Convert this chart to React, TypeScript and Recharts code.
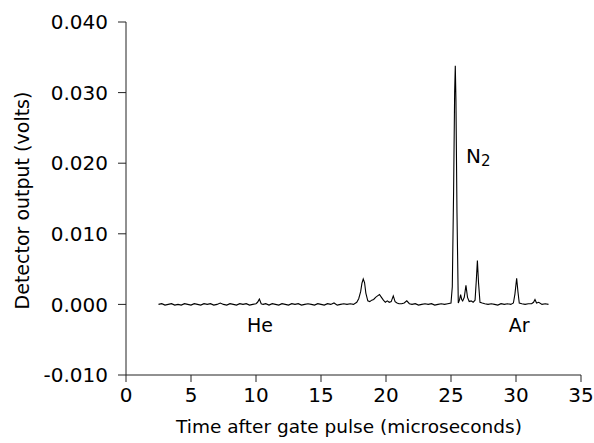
import React from "react";
import { LineChart, Line, XAxis, YAxis, ReferenceDot } from "recharts";

const times = [
  2.5, 2.75, 3, 3.25, 3.5, 3.75, 4, 4.25, 4.5, 4.75,
  5, 5.25, 5.5, 5.75, 6, 6.25, 6.5, 6.75, 7, 7.25,
  7.5, 7.75, 8, 8.25, 8.5, 8.75, 9, 9.25, 9.5, 9.75,
  10, 10.12, 10.26, 10.4, 10.55, 10.75, 11, 11.25, 11.5, 11.75,
  12, 12.25, 12.5, 12.75, 13, 13.25, 13.5, 13.75, 14, 14.25,
  14.5, 14.75, 15, 15.25, 15.5, 15.75, 16, 16.25, 16.5, 16.75,
  17, 17.25, 17.5, 17.75, 17.9, 18.05, 18.15, 18.25, 18.35, 18.45,
  18.6, 18.75, 18.9, 19.05, 19.2, 19.35, 19.5, 19.65, 19.8, 19.95,
  20.1, 20.25, 20.4, 20.56, 20.7, 20.85, 21, 21.2, 21.4, 21.6,
  21.8, 22, 22.25, 22.5, 22.75, 23, 23.25, 23.5, 23.75, 24,
  24.25, 24.5, 24.75, 25, 25.1, 25.2, 25.28, 25.33, 25.38, 25.46,
  25.56, 25.65, 25.74, 25.82, 25.9, 26.02, 26.15, 26.27, 26.4, 26.55,
  26.7, 26.85, 26.95, 27.03, 27.12, 27.23, 27.4, 27.6, 27.85, 28.1,
  28.35, 28.6, 28.85, 29.1, 29.35, 29.6, 29.8, 29.92, 30.05, 30.15,
  30.25, 30.45, 30.7, 30.95, 31.2, 31.35, 31.46, 31.58, 31.75, 32,
  32.25, 32.5,
];

const volts = [
  0, 0.0001, -0.0001, 0, 0.0001, -0.0001, 0, -0.0001, 0.0001, 0,
  -0.0001, 0.0001, 0, -0.0001, 0.0001, 0, 0.0001, -0.0001, 0, 0.0002,
  0, -0.0001, 0.0001, 0, -0.0001, 0.0001, 0, 0.0001, -0.0001, 0,
  0.0001, 0.0003, 0.00075, 0.0001, 0, 0.0001, -0.0001, 0.0001, 0, -0.0001,
  0.0001, 0, -0.0001, 0.0001, 0, 0.0001, -0.0001, 0, 0.0001, 0,
  -0.0001, 0.0001, 0, -0.0001, 0.0001, 0, 0.0002, -0.0001, 0, 0.0001,
  0, 0.0001, 0, 0.0003, 0.0008, 0.0018, 0.003, 0.0036, 0.0031, 0.0016,
  0.0005, 0.0004, 0.0006, 0.0007, 0.001, 0.0012, 0.0014, 0.001, 0.0006, 0.0003,
  0.0005, 0.0003, 0.0004, 0.0012, 0.0004, 0.0002, 0.0001, 0.0001, 0.0002, 0.0005,
  0.0001, 0, 0.0001, -0.0001, 0, 0.0001, 0, 0.0001, -0.0001, 0,
  0.0001, 0, 0.0001, 0.0002, 0.0025, 0.016, 0.03, 0.0338, 0.029, 0.013,
  0.0002, 0.0006, 0.0014, 0.0007, 0.0005, 0.001, 0.0027, 0.001, 0.0004, 0.0005,
  0.0003, 0.0006, 0.0035, 0.0062, 0.003, 0.0003, 0.0002, 0.0001, 0, 0.0001,
  0, -0.0001, 0.0001, 0, 0.0001, 0, 0.0002, 0.0015, 0.0037, 0.0018,
  0.0002, 0.0001, 0, 0.0001, 0.0001, 0.0003, 0.0007, 0.0002, 0.0003, 0,
  0.0001, 0,
];

const xTicks = [0, 5, 10, 15, 20, 25, 30, 35];
const yTicks = [-0.01, 0, 0.01, 0.02, 0.03, 0.04];

const annotations = [
  { label: "He", x: 10.3, y: -0.0029 },
  { label: "Ar", x: 30.25, y: -0.0029 },
];
const n2Label = { x: 26.15, y: 0.021 };

const data = times.map((t, i) => ({ t, v: volts[i] }));

const FONT = "'DejaVu Sans', sans-serif";
const AXIS = "#222";

export default function App() {
  return (
    <div style={{ position: "absolute", left: 0, top: 0, fontFamily: FONT }}>
      <LineChart
        width={594}
        height={443}
        data={data}
        margin={{ top: 22, right: 13, bottom: 0, left: 0 }}
      >
        <XAxis
          dataKey="t"
          type="number"
          domain={[0, 35]}
          ticks={xTicks}
          interval={0}
          height={68}
          tickSize={7}
          tickMargin={6}
          stroke={AXIS}
          tick={{ fill: "#000", fontSize: 20, fontFamily: FONT }}
          tickLine={{ stroke: AXIS }}
          axisLine={{ stroke: AXIS }}
          label={{
            content: (p: any) => {
              const vb = p.viewBox;
              return (
                <text
                  x={349}
                  y={vb.y + 58}
                  textAnchor="middle"
                  fontSize={18.5}
                  fontFamily={FONT}
                  fill="#000"
                >
                  Time after gate pulse (microseconds)
                </text>
              );
            },
          }}
        />
        <XAxis
          xAxisId="top"
          orientation="top"
          type="number"
          domain={[0, 35]}
          height={0}
          tick={false}
          tickLine={false}
          axisLine={{ stroke: AXIS }}
        />
        <YAxis
          type="number"
          domain={[-0.01, 0.04]}
          ticks={yTicks}
          interval={0}
          width={126}
          tickSize={8}
          tickMargin={10}
          stroke={AXIS}
          tickFormatter={(v: number) => v.toFixed(3)}
          tick={{ fill: "#000", fontSize: 20, fontFamily: FONT }}
          tickLine={{ stroke: AXIS }}
          axisLine={{ stroke: AXIS }}
          label={{
            content: (p: any) => {
              const vb = p.viewBox;
              const cy = vb.y + vb.height / 2 + 2;
              return (
                <text
                  x={22}
                  y={cy}
                  transform={`rotate(-90, 22, ${cy})`}
                  textAnchor="middle"
                  dominantBaseline="central"
                  fontSize={19}
                  fontFamily={FONT}
                  fill="#000"
                >
                  Detector output (volts)
                </text>
              );
            },
          }}
        />
        <YAxis
          yAxisId="right"
          orientation="right"
          type="number"
          domain={[-0.01, 0.04]}
          width={0}
          tick={false}
          tickLine={false}
          axisLine={{ stroke: AXIS }}
        />
        <Line
          type="linear"
          dataKey="v"
          stroke="#000"
          strokeWidth={1.1}
          dot={false}
          isAnimationActive={false}
        />
        {annotations.map((a) => (
          <ReferenceDot
            key={a.label}
            x={a.x}
            y={a.y}
            r={0}
            stroke="none"
            fill="none"
            label={{
              content: (p: any) => {
                const vb = p.viewBox;
                return (
                  <text
                    x={vb.x}
                    y={vb.y}
                    textAnchor="middle"
                    dominantBaseline="central"
                    fontSize={19}
                    fontFamily={FONT}
                    fill="#000"
                  >
                    {a.label}
                  </text>
                );
              },
            }}
          />
        ))}
        <ReferenceDot
          x={n2Label.x}
          y={n2Label.y}
          r={0}
          stroke="none"
          fill="none"
          label={{
            content: (p: any) => {
              const vb = p.viewBox;
              return (
                <text
                  x={vb.x}
                  y={vb.y}
                  textAnchor="start"
                  dominantBaseline="central"
                  fontSize={20}
                  fontFamily={FONT}
                  fill="#000"
                >
                  N
                  <tspan fontSize={15} dy={5}>
                    2
                  </tspan>
                </text>
              );
            },
          }}
        />
      </LineChart>
    </div>
  );
}
